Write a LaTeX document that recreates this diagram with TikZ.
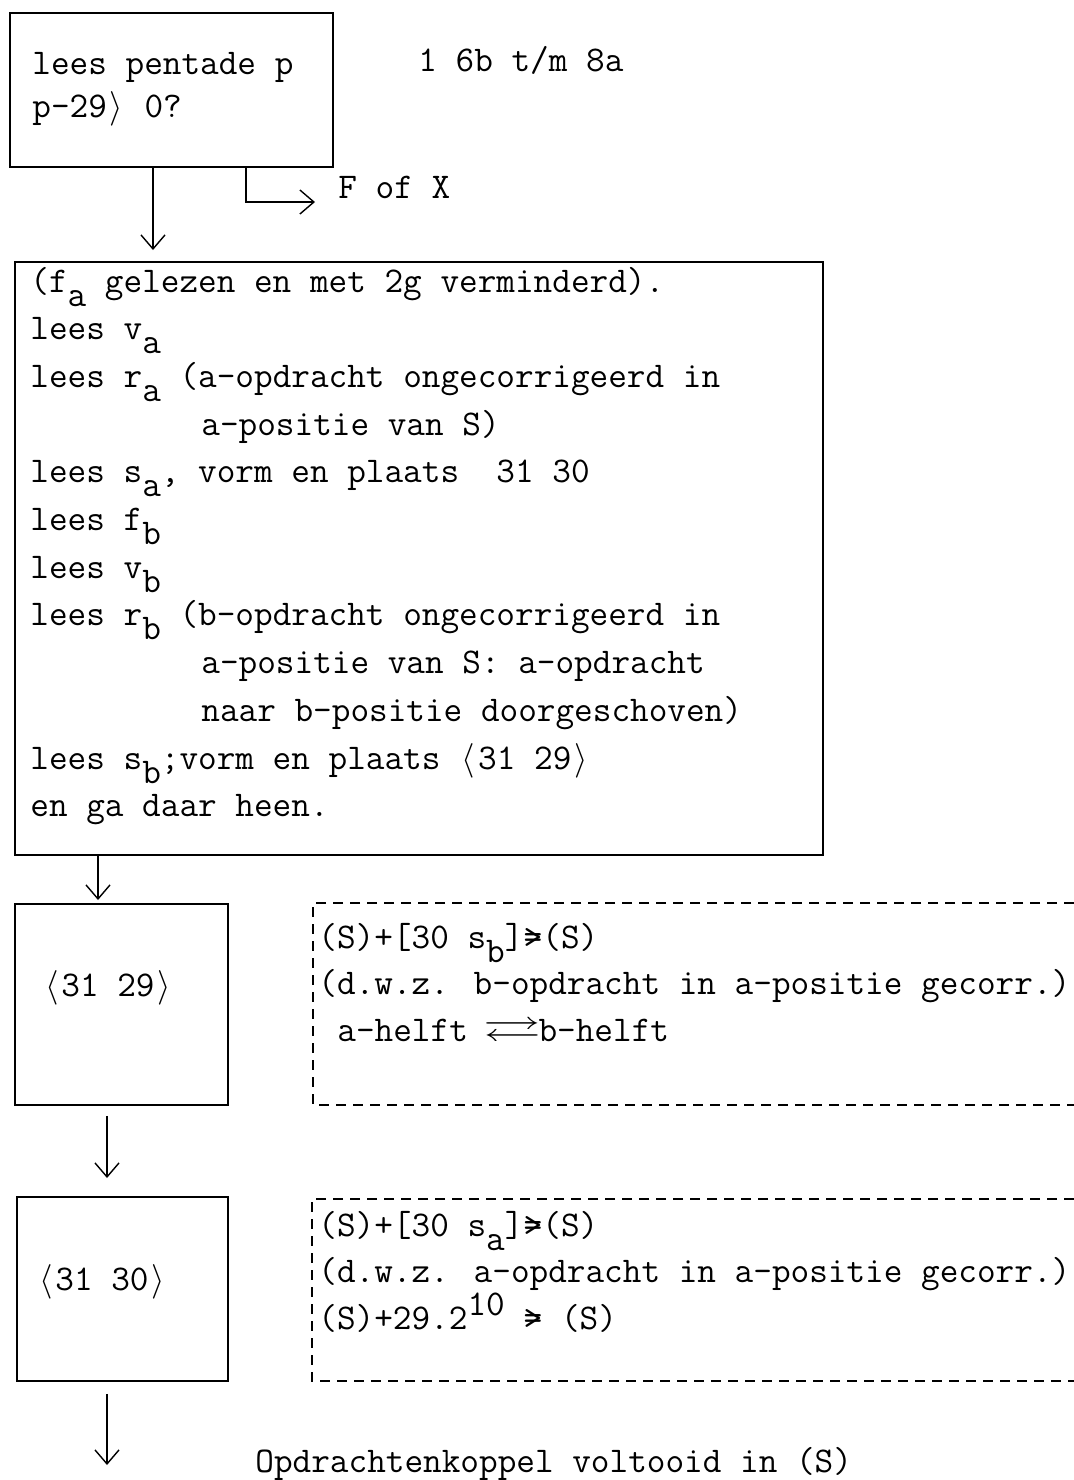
\documentclass[tikz,border=0pt]{standalone}
\usepackage{fontspec}
\usepackage{amssymb}
\usetikzlibrary{arrows.meta}

\newcommand\tw{\ttfamily\fontsize{18.1}{23.85}\selectfont}
\newcommand\lo[1]{\raisebox{-7pt}{#1}}
\newcommand\hi[1]{\raisebox{7pt}{#1}}
\newcommand\inspr{\hspace*{85.5pt}}
\newcommand\cel[1]{\makebox[9.5pt]{#1}}
\newcommand\geeft{\cel{\ooalign{\hfil>\hfil\cr\hfil=\hfil}}}
\newcommand\haak[1]{\cel{$\langle$}#1\cel{$\rangle$}}

\begin{document}
\begin{tikzpicture}[x=0.5pt,y=-0.5pt,
  >={Straight Barb[length=7pt,width=12pt]},
  box/.style={draw,line width=0.9pt,inner sep=0pt},
  stip/.style={line width=0.6pt,dash pattern=on 5pt off 3.5pt},
  pijl/.style={->,line width=0.7pt},
  txt/.style={anchor=base west,inner sep=0pt,font=\tw}]
\useasboundingbox (0,0) rectangle (1074,1480);

% blokken
\node[box,minimum width=161.5pt,minimum height=77pt] (lees) at (171.5,90) {};
\node[box,minimum width=404pt,minimum height=296.5pt] (werk) at (419,558.5) {};
\node[box,minimum width=106.5pt,minimum height=100.5pt] (k29) at (121.5,1004.5) {};
\node[box,minimum width=105.5pt,minimum height=92pt] (k30) at (122.5,1289) {};

% teksten
\node[txt] (leestekst) at (32,74) {\parbox[t]{200pt}{lees pentade p\\[-2.35pt]
p-29\cel{$\rangle$} 0?}};
\node[txt] (regels) at (418,71) {1 6b t/m 8a};
\node[txt] (fofx) at (338,198) {F of X};
\node[txt] (werktekst) at (30,292) {\parbox[t]{420pt}{%
(f\lo{a} gelezen en met 2g verminderd).\\
lees v\lo{a}\\
lees r\lo{a} (a-opdracht ongecorrigeerd in\\
\inspr a-positie van S)\\
lees s\lo{a}, vorm en plaats~~31 30\\
lees f\lo{b}\\
lees v\lo{b}\\
lees r\lo{b} (b-opdracht ongecorrigeerd in\\
\inspr a-positie van S: a-opdracht\\
\inspr naar b-positie doorgeschoven)\\
lees s\lo{b};vorm en plaats \haak{31 29}\\
en ga daar heen.}};
\node[txt] (k29tekst) at (42,996) {\haak{31 29}};
\node[txt] (k30tekst) at (36,1290) {\haak{31 30}};
\node[txt] (corr29) at (318,948) {\parbox[t]{400pt}{%
(S)+[30 s\lo{b}]\geeft(S)\\[-0.6pt]
(d.w.z. b-opdracht in a-positie gecorr.)\\[-0.6pt]
\hspace*{9.5pt}a-helft~\makebox[26pt]{\scalebox{1.6}[1]{$\rightleftarrows$}}b-helft}};
\node[txt] (corr30) at (318,1236) {\parbox[t]{400pt}{%
(S)+[30 s\lo{a}]\geeft(S)\\[-0.6pt]
(d.w.z. a-opdracht in a-positie gecorr.)\\[-0.6pt]
(S)+29.2\hi{10} \geeft{} (S)}};
\node[txt] (klaar) at (255,1472) {Opdrachtenkoppel voltooid in (S)};

% gestippelde kaders
\draw[stip] (1074,903) -- (313,903) -- (313,1105) -- (1074,1105);
\draw[stip] (1074,1199) -- (312,1199) -- (312,1381) -- (1074,1381);

% pijlen
\coordinate (p1) at (153,250);
\coordinate (fx) at (315,202);
\coordinate (fx0) at (246,0);
\coordinate (p2) at (98,900);
\coordinate (p3) at (107,1178);
\coordinate (p4) at (107,1465);
\draw[pijl] (lees.south -| p1) -- (p1);
\draw[pijl] (lees.south -| fx0) |- (fx);
\draw[pijl] (werk.south -| p2) -- (p2);
\draw[pijl,shorten <=5pt] (k29.south -| p3) -- (p3);
\draw[pijl,shorten <=6pt] (k30.south -| p4) -- (p4);

\end{tikzpicture}
\end{document}
